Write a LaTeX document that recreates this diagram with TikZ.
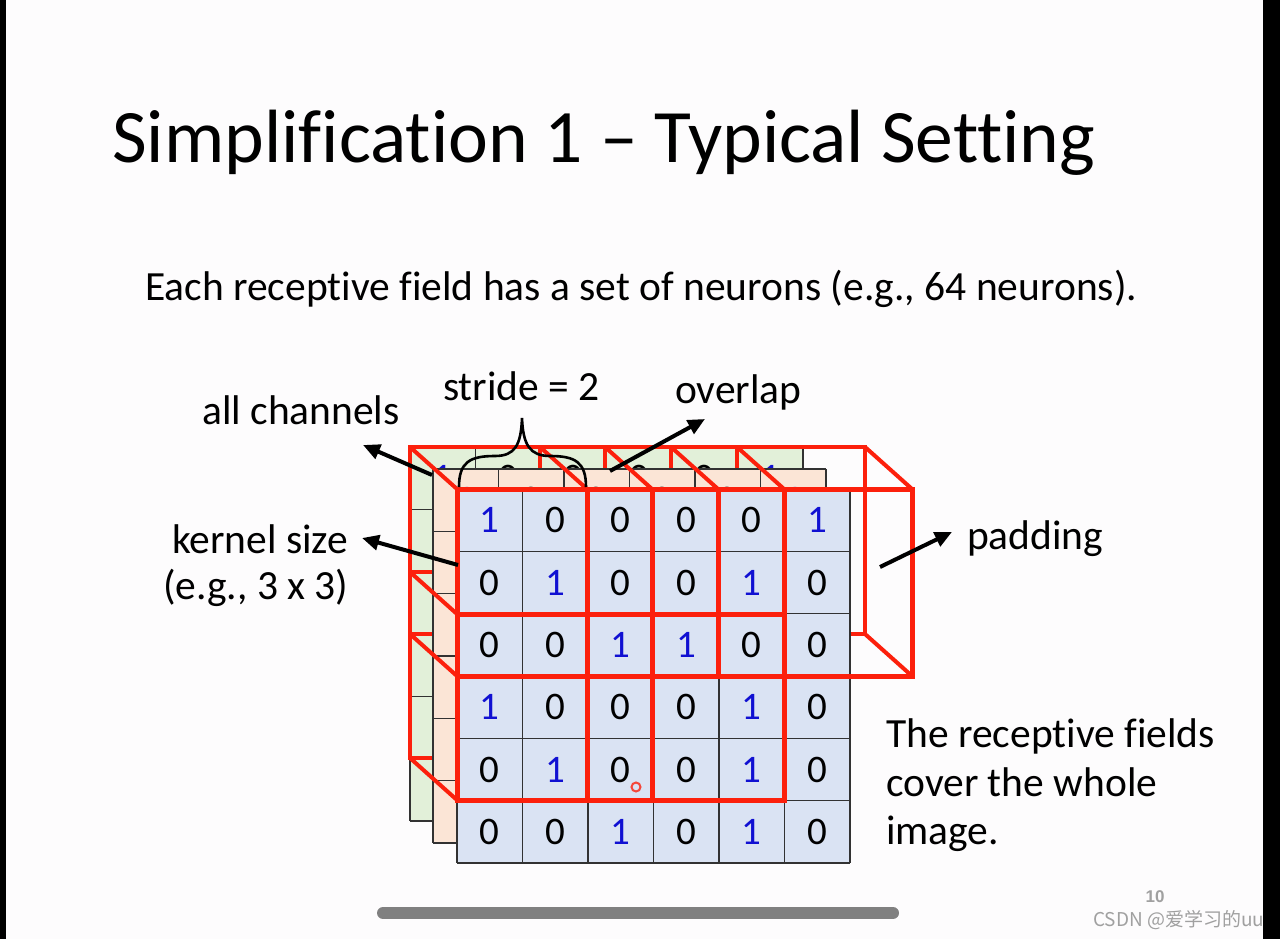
\documentclass[tikz,border=0pt]{standalone}
\usepackage{fontspec}
\setmainfont{Carlito}[Ligatures={NoCommon}]
\newfontfamily\cjkfont{Noto Sans CJK SC}
\newfontfamily\pagefont{Liberation Sans}
\usetikzlibrary{arrows.meta}
\definecolor{cellblue}{RGB}{218,227,243}
\definecolor{cellpeach}{RGB}{251,229,214}
\definecolor{cellgreen}{RGB}{226,240,217}
\definecolor{fieldred}{RGB}{252,32,12}
\definecolor{digitblue}{RGB}{16,16,210}
\definecolor{gridcol}{RGB}{50,50,50}
\definecolor{bgcol}{RGB}{253,252,253}
\definecolor{barcol}{RGB}{128,128,128}
\definecolor{markcol}{RGB}{160,160,160}

\newcommand{\drawlayer}[4]{%
  \begin{scope}[shift={(#1,#2)}]
    \fill[#3] (457,489) rectangle (850,863);
    \foreach \row [count=\r from 0] in {{1,0,0,0,0,1},{0,1,0,0,1,0},{0,0,1,1,0,0},{1,0,0,0,1,0},{0,1,0,0,1,0},{0,0,1,0,1,0}} {
      \foreach \v [count=\c from 0] in \row {
        \ifnum\v=1 \def\dcol{digitblue}\else\def\dcol{black}\fi
        \node[digit, text=\dcol] (#4-\r-\c) at ({457+65.5*\c+32.75},{489+62.33*\r+31.17}) {\v};
      }
    }
    \foreach \i in {0,...,6} {
      \draw[gridln] ({457+65.5*\i},489) -- ({457+65.5*\i},863);
      \draw[gridln] (457,{489+62.33*\i}) -- (850,{489+62.33*\i});
    }
  \end{scope}}

\begin{document}
\begin{tikzpicture}[x=1pt,y=-1pt,
  digit/.style={font=\fontsize{39}{41}\selectfont, inner sep=0pt},
  gridln/.style={draw=gridcol, line width=1.5pt},
  redback/.style={draw=fieldred, line width=4pt, line join=miter},
  redfront/.style={draw=fieldred, line width=5pt, line join=miter},
  lbl/.style={font=\fontsize{41.5}{49}\selectfont, inner sep=0pt, anchor=base west},
  arr/.style={draw=black, line width=4pt, -{Triangle[length=17pt,width=15pt]}},
]
\useasboundingbox (0,0) rectangle (1280,939);
\fill[bgcol] (0,0) rectangle (1280,939);

% title and subtitle
\node[font=\fontsize{75.5}{80}\selectfont, inner sep=0pt, anchor=base west] (title) at (112,163) {Simplification 1 -- Typical Setting};
\node[lbl] (subtitle) at (145,300) {Each receptive field has a set of neurons (e.g., 64 neurons).};

% back layer (green)
\drawlayer{-47}{-42}{cellgreen}{g}
% back faces of receptive fields
\foreach \a/\b/\cc/\d in {457/489/652/676, 587/489/784/676, 718/489/912/676, 457/614/652/800, 587/614/784/800} {
  \draw[redback] (\a-47,\b-42) rectangle (\cc-47,\d-42);
}
% middle layer (peach)
\drawlayer{-24}{-20}{cellpeach}{p}
% depth edges
\foreach \a/\b/\cc/\d in {457/489/652/676, 587/489/784/676, 718/489/912/676, 457/614/652/800, 587/614/784/800} {
  \draw[redback] (\a-47,\b-42) -- (\a,\b);
  \draw[redback] (\cc-47,\b-42) -- (\cc,\b);
  \draw[redback] (\a-47,\d-42) -- (\a,\d);
  \draw[redback] (\cc-47,\d-42) -- (\cc,\d);
}
% front layer (blue)
\drawlayer{0}{0}{cellblue}{f}
% front faces of receptive fields
\foreach \a/\b/\cc/\d in {457/489/652/676, 587/489/784/676, 718/489/912/676, 457/614/652/800, 587/614/784/800} {
  \draw[redfront] (\a,\b) rectangle (\cc,\d);
}

% brace for stride
\draw[line width=2.6pt] (459,487) .. controls (459,462) and (470,456) .. (495,456) .. controls (515,456) and (521,445) .. (522,418)
  .. controls (523,445) and (530,456) .. (550,456) .. controls (575,456) and (586,462) .. (586,487);

% labels
\node[lbl] (allch) at (202,424) {all channels};
\node[lbl] (stride) at (443,400) {stride = 2};
\node[lbl] (overlap) at (675,403) {overlap};
\node[lbl] (kernel) at (172,553) {kernel size};
\node[lbl] (kernelex) at (163,599) {(e.g., 3 x 3)};
\node[lbl] (padding) at (967,549) {padding};
\node[lbl] (cover1) at (886,747) {The receptive fields};
\node[lbl] (cover2) at (886,796) {cover the whole};
\node[lbl] (cover3) at (886,844) {image.};

% arrows
\coordinate (acTail) at (432,475); \coordinate (acTip) at (363,445);
\coordinate (ksTail) at (458,565); \coordinate (ksTip) at (362,538);
\coordinate (ovTail) at (610,471); \coordinate (ovTip) at (705,419);
\coordinate (pdTail) at (880,567); \coordinate (pdTip) at (952,532);
\draw[arr] (acTail) -- (acTip);
\draw[arr] (ksTail) -- (ksTip);
\draw[arr] (ovTail) -- (ovTip);
\draw[arr] (pdTail) -- (pdTip);

% cursor mark
\draw[fieldred, line width=2pt, opacity=0.8] (636,787) circle (4.5pt);

% scroll bar, page number, watermark
\coordinate (barL) at (383,913); \coordinate (barR) at (893,913);
\draw[barcol, line width=12pt, line cap=round] (barL) -- (barR);
\node[font=\pagefont\bfseries\fontsize{17}{20}\selectfont, text=markcol, inner sep=0pt, anchor=base] (pagenum) at (1155,902) {10};
\node[font=\cjkfont\fontsize{19}{21}\selectfont, text=markcol, inner sep=0pt, anchor=base west] (wm) at (1093,926) {CSDN @爱学习的uu};

% black borders
\fill[black] (0,0) rectangle (6,939);
\fill[black] (1263,0) rectangle (1280,939);
\end{tikzpicture}
\end{document}
